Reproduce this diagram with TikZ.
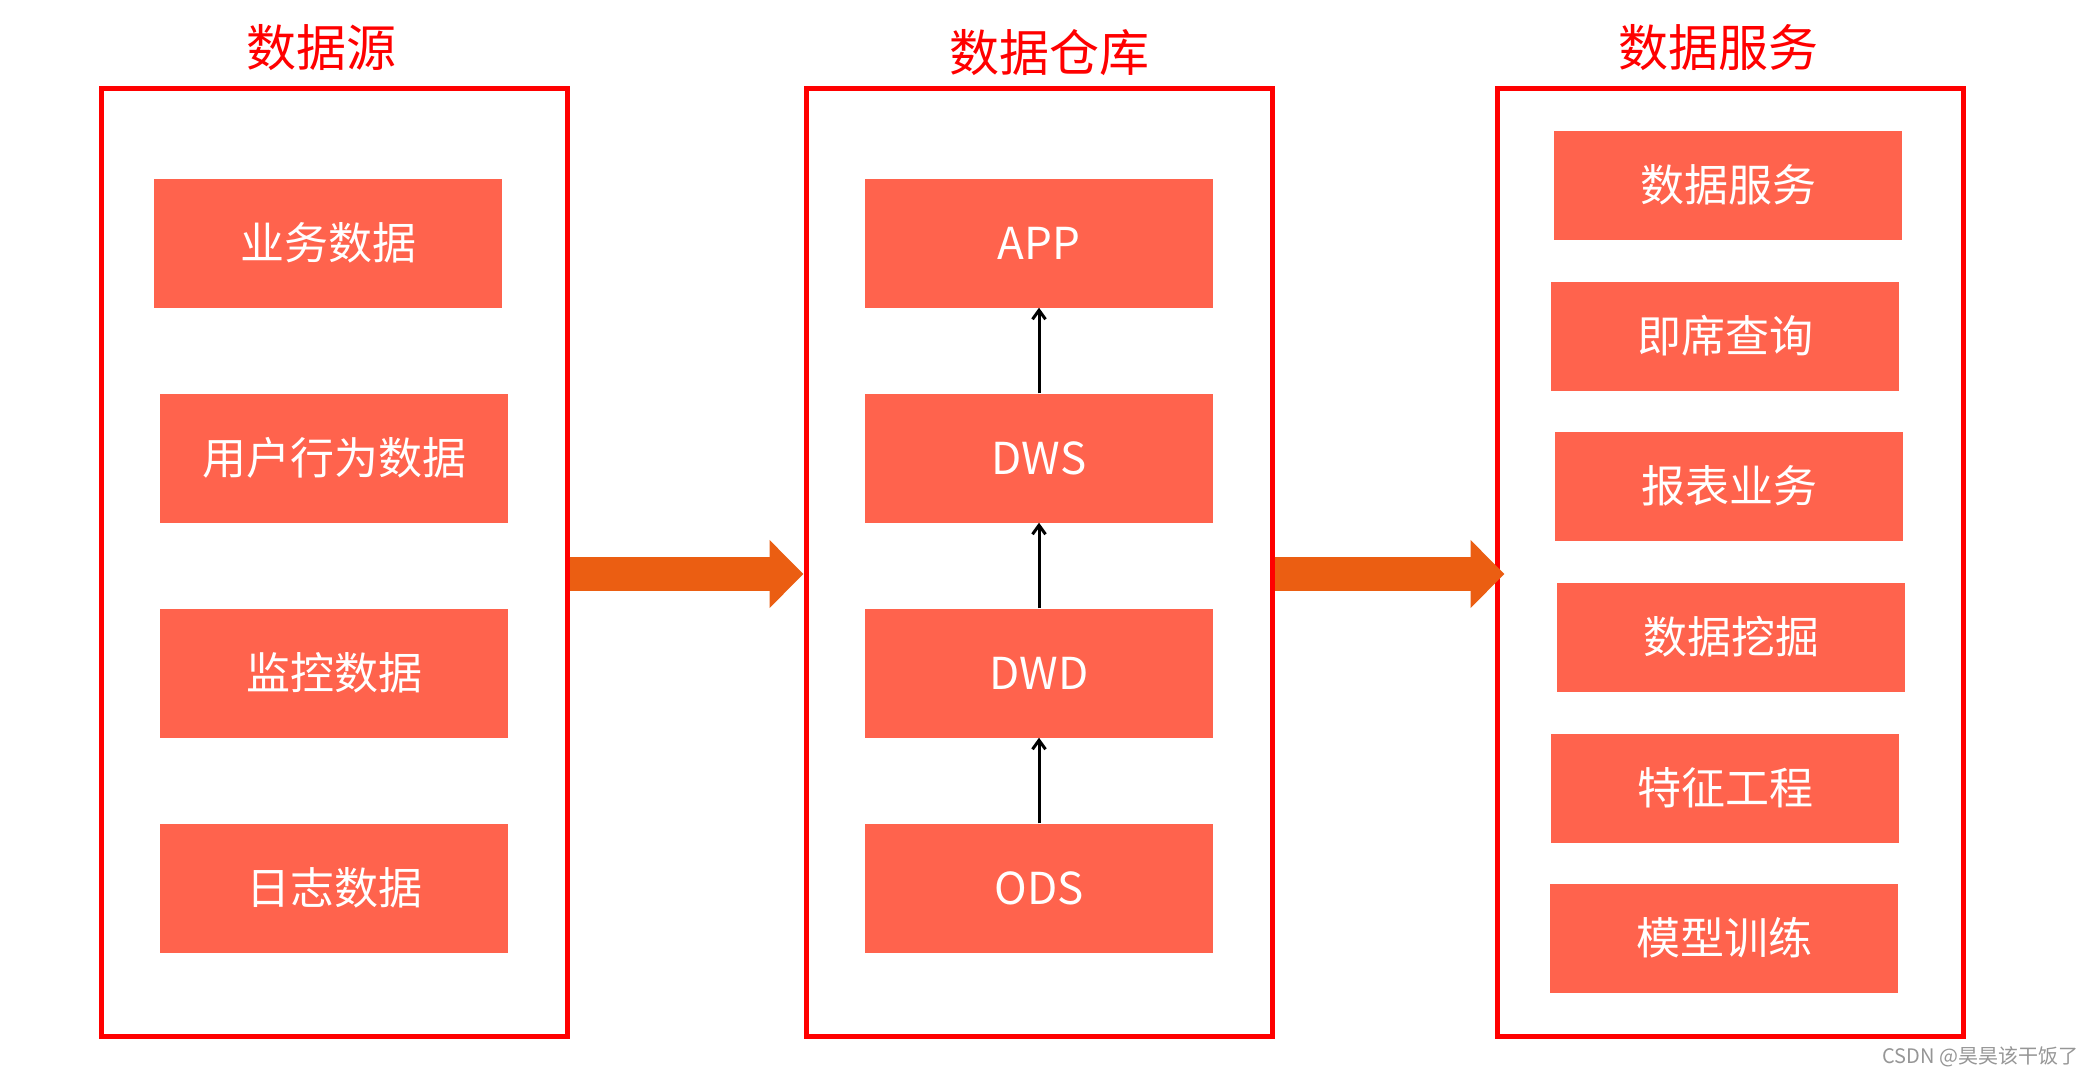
\documentclass[tikz,border=0pt]{standalone}
\usepackage{fontspec}
\setmainfont{Noto Sans CJK SC}
\usepackage{tikz}
\usetikzlibrary{arrows.meta,positioning}

\definecolor{boxfill}{RGB}{255,99,77}
\definecolor{flowfill}{RGB}{235,94,18}
\definecolor{markgray}{RGB}{150,150,150}

\begin{document}
\begin{tikzpicture}[x=1pt,y=-1pt]

\tikzstyle{panel}=[draw=red,line width=5pt,minimum width=466pt,minimum height=948pt,inner sep=0pt]
\tikzstyle{layer}=[fill=boxfill,text=white,minimum width=348pt,minimum height=129pt,inner sep=0pt,font=\fontsize{44}{48}\selectfont]
\tikzstyle{use}=[layer,minimum height=109pt]
\tikzstyle{title}=[text=red,font=\fontsize{50}{54}\selectfont]
\tikzstyle{flow}=[draw=flowfill,line width=34pt,-{Triangle[length=34pt,width=66pt]}]
\tikzstyle{up}=[line width=3pt,-{Straight Barb[length=9pt,width=13pt]}]

\useasboundingbox (0,0) rectangle (2093,1077);

%panels
\node[panel] (src) at (334,562) {};
\node[panel] (dwh) at (1039,562) {};
\node[panel] (svc) at (1730,562) {};

\node[title] (tsrc) at (321,48) {数据源};
\node[title] (tdwh) at (1049,53) {数据仓库};
\node[title] (tsvc) at (1718,48) {数据服务};

%data source
\node[layer] (biz) at (328,243) {业务数据};
\node[layer] (user) at (334,458) {用户行为数据};
\node[layer] (mon) at (334,673) {监控数据};
\node[layer] (log) at (334,888) {日志数据};

%warehouse layers
\node[layer] (app) at (1039,243) {APP};
\node[layer] (dws) at (1039,458) {DWS};
\node[layer] (dwd) at (1039,673) {DWD};
\node[layer] (ods) at (1039,888) {ODS};

%services
\node[use] (s1) at (1728,185) {数据服务};
\node[use] (s2) at (1725,336) {即席查询};
\node[use] (s3) at (1729,486) {报表业务};
\node[use] (s4) at (1731,637) {数据挖掘};
\node[use] (s5) at (1725,788) {特征工程};
\node[use] (s6) at (1724,938) {模型训练};

\path [up] (ods) edge (dwd)
      [up] (dwd) edge (dws)
      [up] (dws) edge (app);

%big arrows
\draw[flow] ([yshift=-12pt]src.east) -- ([yshift=-12pt]dwh.west);
\draw[flow] ([yshift=-12pt]dwh.east) -- ([xshift=10pt,yshift=-12pt]svc.west);

\node[text=markgray,font=\fontsize{20}{22}\selectfont,anchor=east] (mark) at (2082,1057) {CSDN @昊昊该干饭了};

\end{tikzpicture}
\end{document}
